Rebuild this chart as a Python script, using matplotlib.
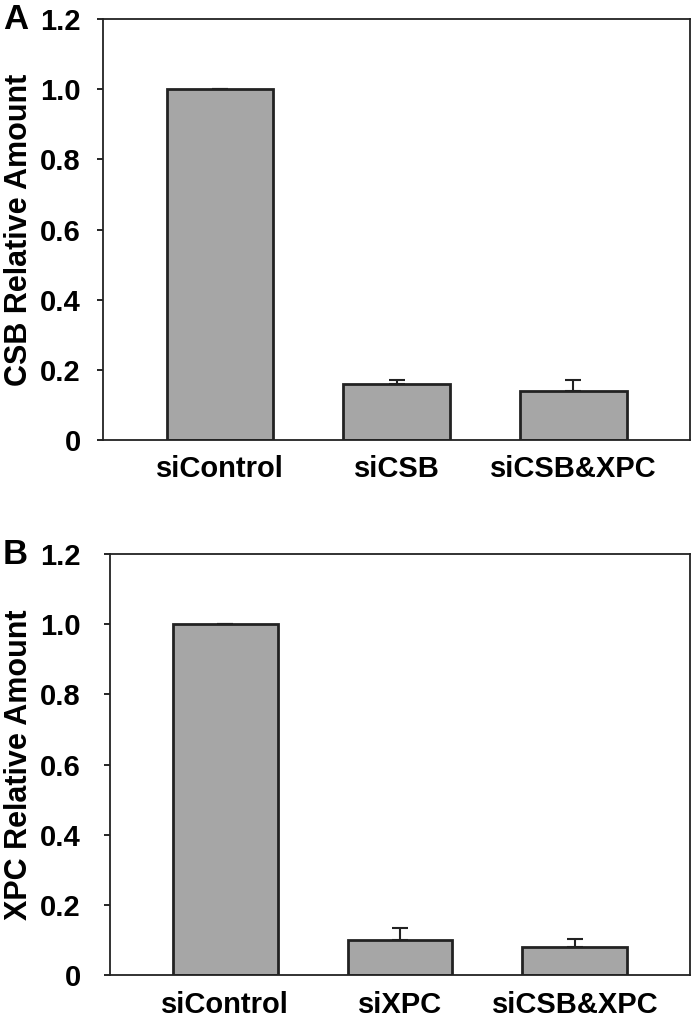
import matplotlib.pyplot as plt

plt.rcParams['font.family'] = ['Liberation Sans', 'DejaVu Sans']
plt.rcParams['font.weight'] = 'bold'

labels_a = ['siControl', 'siCSB', 'siCSB&XPC']
values_a = [1.0, 0.16, 0.14]
errors_a = [0.0, 0.012, 0.032]

labels_b = ['siControl', 'siXPC', 'siCSB&XPC']
values_b = [1.0, 0.10, 0.08]
errors_b = [0.0, 0.035, 0.022]

yticks = [0, 0.2, 0.4, 0.6, 0.8, 1.0, 1.2]
ytick_labels = ['0', '0.2', '0.4', '0.6', '0.8', '1.0', '1.2']


def panel(ax, labels, values, errors, ylabel, ypad):
    x = range(len(labels))
    ax.bar(x, values, width=0.6, color='#a6a6a6', edgecolor='#222222', linewidth=2, zorder=2)
    ax.errorbar(x, values, yerr=[[0] * len(errors), errors], fmt='none',
                ecolor='#222222', elinewidth=1.5, capsize=6, capthick=1.5, zorder=1)
    ax.set_xlim(-0.66, 2.66)
    ax.set_ylim(0, 1.2)
    ax.set_yticks(yticks)
    ax.set_yticklabels(ytick_labels, fontsize=21, fontweight='bold')
    ax.set_xticks(list(x))
    ax.set_xticklabels(labels, fontsize=21, fontweight='bold')
    ax.tick_params(axis='x', length=0, pad=11)
    ax.tick_params(axis='y', length=4, width=1.2, pad=ypad)
    for s in ax.spines.values():
        s.set_linewidth(1.3)
        s.set_color('#222222')
    ax.set_ylabel(ylabel, fontsize=22, fontweight='bold', labelpad=4)


fig = plt.figure(figsize=(7, 10.18), dpi=100)
ax1 = fig.add_axes([0.147, 0.568, 0.839, 0.413])
ax2 = fig.add_axes([0.157, 0.042, 0.829, 0.414])
panel(ax1, labels_a, values_a, errors_a, 'CSB Relative Amount', 12)
panel(ax2, labels_b, values_b, errors_b, 'XPC Relative Amount', 17)

fig.text(0.004, 0.981, 'A', fontsize=25, fontweight='bold', ha='left', va='center')
fig.text(0.004, 0.455, 'B', fontsize=25, fontweight='bold', ha='left', va='center')

fig.savefig('out.png', dpi=100)
